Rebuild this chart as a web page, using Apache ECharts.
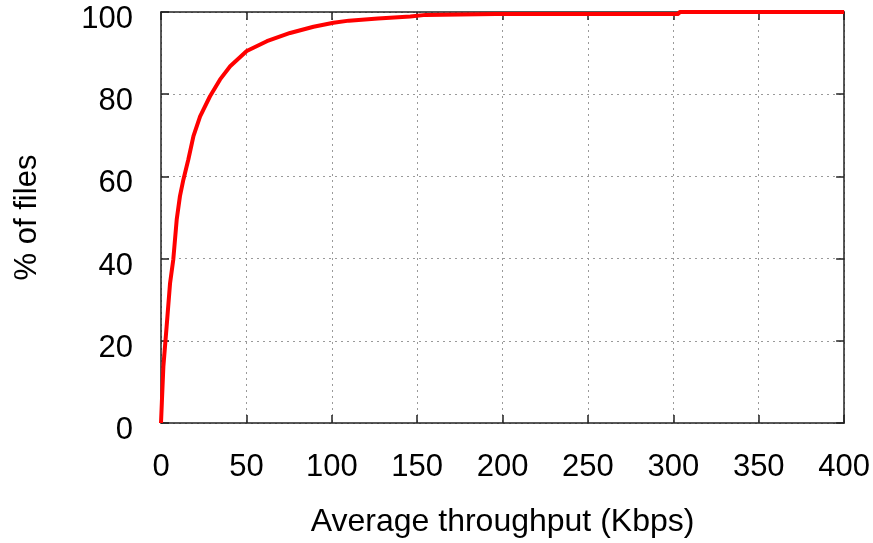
<!DOCTYPE html>
<html>
<head>
<meta charset="utf-8">
<script src="https://cdn.jsdelivr.net/npm/echarts@6/dist/echarts.min.js"></script>
<style>
  html, body { margin: 0; padding: 0; background: #fff; }
  #main { width: 873px; height: 543px; }
</style>
</head>
<body>
<div id="main"></div>
<script>
// CDF of average throughput
var throughput = [0, 0.5, 1.4, 3.3, 5.3, 7.2, 9.2, 11.1, 13.1, 16, 19, 22.9, 28.7, 34.6, 40.5, 50.2, 62, 75.6, 89.3, 101, 110, 127, 146, 155, 196, 303, 303.5, 400];
var pctFiles   = [0, 5, 13.8, 23.5, 34, 39.8, 49.5, 55.2, 59.2, 64.1, 69.8, 74.6, 79.5, 83.6, 86.8, 90.5, 92.9, 94.9, 96.4, 97.4, 97.9, 98.4, 98.9, 99.3, 99.5, 99.5, 100, 100];
var xTicks = [0, 50, 100, 150, 200, 250, 300, 350, 400];
var yTicks = [0, 20, 40, 60, 80, 100];

var points = throughput.map(function (x, i) { return [x, pctFiles[i]]; });

var font = 'Liberation Sans, Arial, sans-serif';
var frame = { color: '#222', width: 1.5 };
var grid = { color: '#9a9a9a', width: 1, type: [2, 4] };

var chart = echarts.init(document.getElementById('main'));

var option = {
  animation: false,
  grid: { left: 161, right: 28, top: 12, bottom: 119 },
  xAxis: [{
    type: 'value', min: xTicks[0], max: xTicks[xTicks.length - 1], interval: 50,
    name: 'Average throughput (Kbps)',
    nameLocation: 'middle', nameGap: 83,
    nameTextStyle: { fontFamily: font, fontSize: 32, color: '#000' },
    axisLine: { onZero: false, lineStyle: frame },
    axisTick: { inside: true, length: 8, lineStyle: frame },
    axisLabel: { fontFamily: font, fontSize: 31, color: '#000', margin: 29 },
    splitLine: { show: true, lineStyle: grid }
  }, {
    type: 'value', min: xTicks[0], max: xTicks[xTicks.length - 1], interval: 50, position: 'top',
    axisLine: { show: true, onZero: false, lineStyle: frame },
    axisTick: { inside: true, length: 8, lineStyle: frame },
    axisLabel: { show: false },
    splitLine: { show: false }
  }],
  yAxis: [{
    type: 'value', min: yTicks[0], max: yTicks[yTicks.length - 1], interval: 20,
    name: '% of files',
    nameLocation: 'middle', nameGap: 118, nameRotate: 90,
    nameTextStyle: { fontFamily: font, fontSize: 31, color: '#000' },
    axisLine: { show: true, onZero: false, lineStyle: frame },
    axisTick: { inside: true, length: 8, lineStyle: frame },
    axisLabel: { fontFamily: font, fontSize: 31, color: '#000', margin: 28,
      verticalAlign: 'top', lineHeight: 31, padding: [-8, 0, 0, 0] },
    splitLine: { show: true, lineStyle: grid }
  }, {
    type: 'value', min: yTicks[0], max: yTicks[yTicks.length - 1], interval: 20, position: 'right',
    axisLine: { show: true, onZero: false, lineStyle: frame },
    axisTick: { inside: true, length: 8, lineStyle: frame },
    axisLabel: { show: false },
    splitLine: { show: false }
  }],
  series: [{
    type: 'line',
    data: points,
    showSymbol: false,
    lineStyle: { color: '#ff0000', width: 4 },
    z: 5
  }]
};

chart.setOption(option);
</script>
</body>
</html>
